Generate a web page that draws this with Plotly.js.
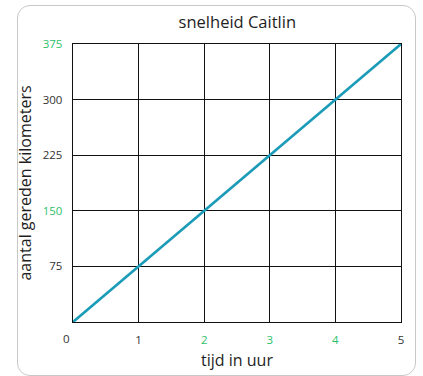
<!DOCTYPE html>
<html><head><meta charset="utf-8">
<script src="https://cdn.plot.ly/plotly-3.0.1.min.js"></script>
<style>
html,body{margin:0;padding:0;background:#fff;}
#wrap{position:relative;width:423px;height:376px;}
#chart{position:absolute;left:0;top:0;width:423px;height:376px;}
#frame{position:absolute;left:17px;top:5px;width:399px;height:371px;border:1.3px solid #c8c8c8;border-radius:13px;pointer-events:none;box-sizing:border-box;}
</style>
</head><body>
<div id="wrap"><div id="frame"></div><div id="chart"></div></div>
<script>
const hours = [0, 1, 2, 3, 4, 5];
const km = [0, 75, 150, 225, 300, 375];
const xTickVals = [1, 2, 3, 4, 5];
const xTickColors = ['#333333', '#2fbf6a', '#2fbf6a', '#2fbf6a', '#333333'];
const yTickVals = [75, 150, 225, 300, 375];
const yTickColors = ['#333333', '#2fbf6a', '#333333', '#333333', '#2fbf6a'];
const title = 'snelheid Caitlin';
const xTitle = 'tijd in uur';
const yTitle = 'aantal gereden kilometers';
const originLabel = '0';

const font = '"Open Sans", sans-serif';
const col = (v, c) => '<span style="color:' + c + '">' + v + '</span>';

const trace = {
  x: hours, y: km, type: 'scatter', mode: 'lines',
  line: {color: '#1a9bb8', width: 2.6},
  hoverinfo: 'skip', cliponaxis: false
};

const layout = {
  width: 423, height: 376,
  margin: {l: 73, r: 22, t: 44, b: 54},
  paper_bgcolor: 'rgba(0,0,0,0)', plot_bgcolor: 'rgba(0,0,0,0)',
  showlegend: false,
  font: {family: font, color: '#333333', size: 11},
  title: {text: title, font: {family: font, size: 16.5, color: '#1e1e1e'}, x: 0.561, xanchor: 'center', y: 0.942, yanchor: 'middle'},
  xaxis: {
    range: [0, 5], tickmode: 'array', tickvals: xTickVals,
    ticktext: xTickVals.map((v, i) => col(v, xTickColors[i])),
    showgrid: true, gridcolor: '#111', gridwidth: 1.3,
    zeroline: false, showline: true, linecolor: '#111', linewidth: 1.3, mirror: true,
    ticks: '', ticklabelstandoff: 7, tickfont: {size: 11.5},
    title: {text: xTitle, font: {size: 16, color: '#1e1e1e'}, standoff: 8},
    fixedrange: true
  },
  yaxis: {
    range: [0, 375], tickmode: 'array', tickvals: yTickVals,
    ticktext: yTickVals.map((v, i) => col(v, yTickColors[i])),
    showgrid: true, gridcolor: '#111', gridwidth: 1.3,
    zeroline: false, showline: true, linecolor: '#111', linewidth: 1.3, mirror: true,
    ticks: '', ticklabelstandoff: 7, tickfont: {size: 11.5},
    title: {text: yTitle, font: {size: 16, color: '#1e1e1e'}, standoff: 7},
    fixedrange: true
  },
  annotations: [{
    x: hours[0], y: km[0], xref: 'x', yref: 'y', text: originLabel, showarrow: false,
    xanchor: 'center', yanchor: 'top', xshift: -7, yshift: -7,
    font: {family: font, size: 11.5, color: '#333333'}
  }]
};

Plotly.newPlot('chart', [trace], layout, {displayModeBar: false, staticPlot: true});
</script>
</body></html>
